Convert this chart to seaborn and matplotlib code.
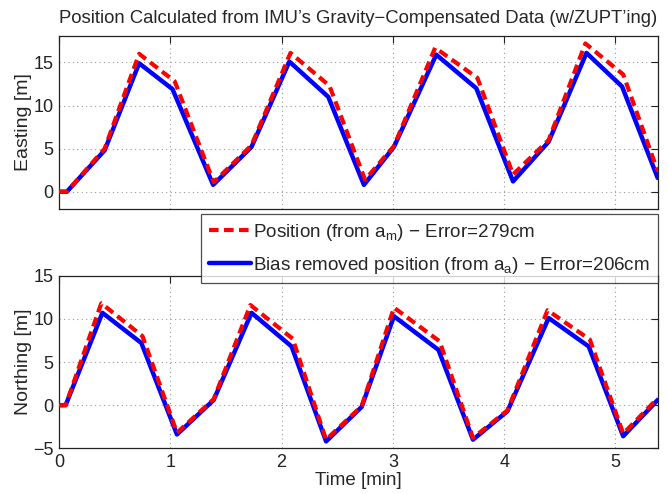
import matplotlib
matplotlib.use("Agg")
import matplotlib.pyplot as plt
import seaborn as sns
import numpy as np

# ---------------- data ----------------
# Easting, position from a_m (red dashed)
t_east_m = [0.0, 0.07, 0.41, 0.72, 1.04, 1.39, 1.73, 2.08, 2.43, 2.75, 3.01, 3.38, 3.76, 4.08, 4.40, 4.73, 5.07, 5.38]
east_m   = [0.0, 0.0,  5.0, 16.0, 12.8,  1.1,  5.4, 16.1, 12.3,  1.4,  5.3, 16.7, 13.2,  2.0,  6.0, 17.2, 13.6,  2.4]
# Easting, bias removed position from a_a (blue solid)
t_east_a = [0.0, 0.07, 0.41, 0.72, 1.02, 1.385, 1.73, 2.07, 2.42, 2.74, 3.01, 3.39, 3.75, 4.08, 4.40, 4.74, 5.06, 5.38]
east_a   = [0.0, 0.0,  4.8, 14.9, 11.9,  0.8,   5.2, 15.1, 11.0,  0.8,  5.2, 15.9, 12.0,  1.2,  5.8, 16.1, 12.2,  1.6]

# Northing, position from a_m (red dashed)
t_north_m = [0.0, 0.06, 0.38, 0.75, 1.06, 1.39, 1.72, 2.10, 2.40, 2.72, 3.01, 3.42, 3.72, 4.03, 4.39, 4.77, 5.07, 5.38]
north_m   = [0.0, 0.0, 11.8,  8.0, -3.2,  0.7, 11.6,  7.7, -4.0, -0.1, 11.3,  7.4, -3.8, -0.6, 11.0,  7.6, -3.3,  0.8]
# Northing, bias removed position from a_a (blue solid)
t_north_a = [0.0, 0.06, 0.39, 0.74, 1.06, 1.39, 1.73, 2.09, 2.40, 2.72, 3.01, 3.41, 3.72, 4.03, 4.40, 4.76, 5.07, 5.38]
north_a   = [0.0, 0.0, 10.7,  7.2, -3.4,  0.6, 10.7,  6.8, -4.2, -0.2, 10.3,  6.4, -4.0, -0.7, 10.1,  6.8, -3.6,  0.6]

x_ticks = [0, 1, 2, 3, 4, 5]
east_ticks = [0, 5, 10, 15]
north_ticks = [-5, 0, 5, 10, 15]

label_m = "Position (from a$_m$) \u2212 Error=279cm"
label_a = "Bias removed position (from a$_a$) \u2212 Error=206cm"

# ---------------- style ----------------
sns.set_style("white")
plt.rcParams["font.family"] = ["Liberation Sans", "DejaVu Sans"]
plt.rcParams["mathtext.default"] = "regular"
plt.rcParams["axes.unicode_minus"] = True

fig = plt.figure(figsize=(6.68, 4.94), dpi=100)
W, H = 668, 494
def ax_rect(l, t, r, b):
    return [l / W, 1 - b / H, (r - l) / W, (b - t) / H]

ax1 = fig.add_axes(ax_rect(59, 35.7, 657.7, 209))
ax2 = fig.add_axes(ax_rect(59, 275.7, 657.7, 448.3))

red = "#ff0000"
blue = "#0000ff"
TICK_FS = 13

def draw(ax, tm, ym, ta, ya):
    sns.lineplot(x=ta, y=ya, ax=ax, color=blue, linewidth=3.2, label=label_a,
                 estimator=None, sort=False, zorder=2)
    sns.lineplot(x=tm, y=ym, ax=ax, color=red, linewidth=3.0, label=label_m,
                 estimator=None, sort=False, zorder=3, dashes=(2.3, 1.3))
    ax.set_xlim(0, 5.38)
    ax.set_xticks(x_ticks)
    ax.grid(True, color="#9a9a9a", linestyle=(0, (1, 3)), linewidth=0.8)
    ax.tick_params(direction="in", top=True, right=True, length=5, width=0.8,
                   labelsize=TICK_FS, colors="#222222", pad=4)
    for s in ax.spines.values():
        s.set_color("#222222")
        s.set_linewidth(0.9)
    ax.set_xlabel("")

draw(ax1, t_east_m, east_m, t_east_a, east_a)
ax1.set_ylim(-2, 18.1)
ax1.set_yticks(east_ticks)
ax1.set_xticklabels([])
ax1.set_ylabel("Easting [m]", fontsize=14, labelpad=1)
ax1.set_title("Position Calculated from IMU\u2019s Gravity\u2212Compensated Data (w/ZUPT\u2019ing)",
              fontsize=13.3, pad=9)
ax1.get_legend().remove()

draw(ax2, t_north_m, north_m, t_north_a, north_a)
ax2.set_ylim(-5, 15)
ax2.set_yticks(north_ticks)
ax2.set_xticklabels([str(v) for v in x_ticks])
ax2.set_ylabel("Northing [m]", fontsize=14, labelpad=1)
ax2.set_xlabel("Time [min]", fontsize=13.5, labelpad=1)
ax2.get_legend().remove()

handles, labels = ax2.get_legend_handles_labels()
order = [labels.index(label_m), labels.index(label_a)]
leg = fig.legend([handles[i] for i in order], [labels[i] for i in order],
                 loc="upper right", bbox_to_anchor=(657.7 / W, 1 - 214 / H),
                 frameon=True, fancybox=False, fontsize=13.6,
                 handlelength=2.2, handletextpad=0.15, borderpad=0.4,
                 labelspacing=0.65, borderaxespad=0)
leg.get_frame().set_edgecolor("#222222")
leg.get_frame().set_linewidth(0.9)
leg.set_zorder(10)

fig.savefig("out.png", dpi=100)
